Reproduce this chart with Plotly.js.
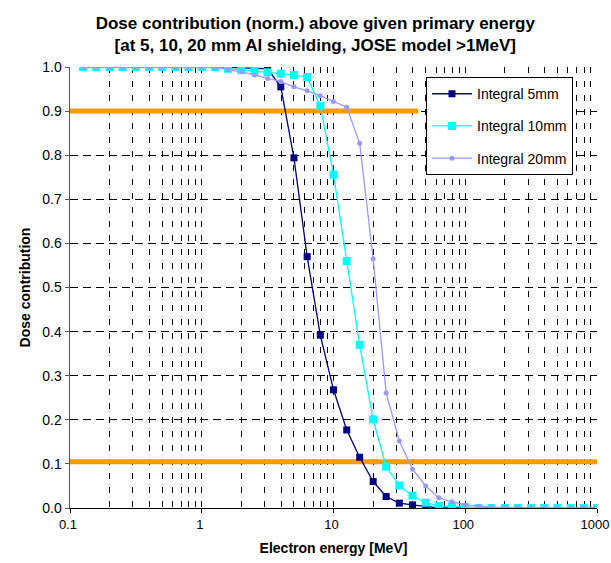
<!DOCTYPE html>
<html>
<head>
<meta charset="utf-8">
<script src="https://cdn.plot.ly/plotly-3.0.1.min.js"></script>
<style>html,body{margin:0;padding:0;background:#fff;}#chart{width:611px;height:563px;}</style>
</head>
<body>
<div id="chart"></div>
<script>
// Electron energy [MeV]
const energy = [0.126, 0.158, 0.2, 0.251, 0.316, 0.398, 0.501, 0.631, 0.794, 1,
  1.26, 1.58, 2, 2.51, 3.16, 3.98, 5.01, 6.31, 7.94, 10,
  12.6, 15.8, 20, 25.1, 31.6, 39.8, 50.1, 63.1, 79.4, 100,
  126, 158, 200, 251, 316, 398, 501, 631, 794, 1000];

const integral5mm = [1, 1, 1, 1, 1, 1, 1, 1, 1, 1,
  1, 0.999, 0.998, 0.997, 0.996, 0.955, 0.794, 0.570, 0.392, 0.268,
  0.177, 0.115, 0.060, 0.026, 0.011, 0.007, 0.003, 0, 0, 0,
  0, 0, 0, 0, 0, 0, 0, 0, 0, 0];

const integral10mm = [1, 1, 1, 1, 1, 1, 1, 1, 1, 1,
  1, 0.996, 0.993, 0.991, 0.988, 0.985, 0.982, 0.977, 0.912, 0.756,
  0.560, 0.370, 0.201, 0.094, 0.051, 0.028, 0.012, 0.005, 0.004, 0.002,
  0, 0, 0, 0, 0, 0, 0, 0, 0, 0];

const integral20mm = [1, 1, 1, 1, 1, 1, 1, 1, 1, 1,
  0.999, 0.994, 0.989, 0.982, 0.974, 0.967, 0.955, 0.946, 0.935, 0.922,
  0.909, 0.827, 0.565, 0.261, 0.152, 0.088, 0.050, 0.023, 0.014, 0.007,
  0.004, 0.002, 0.001, 0.001, 0, 0, 0, 0, 0, 0];

// Orange reference levels
const level90x = [0.1, 44];
const level90y = [0.9, 0.9];
const level10x = [0.1, 1000];
const level10y = [0.105, 0.105];

const xTickVals = [0.1, 1, 10, 100, 1000];
const xTickText = ['0.1', '1', '10', '100', '1000'];
const yTickVals = [0, 0.1, 0.2, 0.3, 0.4, 0.5, 0.6, 0.7, 0.8, 0.9, 1.0];

const seriesNames = ['Integral 5mm', 'Integral 10mm', 'Integral 20mm'];

const FONT = 'Liberation Sans, Arial, sans-serif';

const traces = [
  {x: level90x, y: level90y, mode: 'lines', line: {color: '#FF9900', width: 5}, showlegend: false, hoverinfo: 'skip'},
  {x: level10x, y: level10y, mode: 'lines', line: {color: '#FF9900', width: 5}, showlegend: false, hoverinfo: 'skip'},
  {x: energy, y: integral5mm, name: seriesNames[0], mode: 'lines+markers', legendgroup: 'a',
   line: {color: '#000080', width: 1.3}, marker: {symbol: 'square', size: 7, color: '#000080'}},
  {x: energy, y: integral10mm, name: seriesNames[1], mode: 'lines+markers', legendgroup: 'b',
   line: {color: '#00FFFF', width: 1.3}, marker: {symbol: 'square', size: 8, color: '#00FFFF'}},
  {x: energy, y: integral20mm, name: seriesNames[2], mode: 'lines+markers', legendgroup: 'c',
   line: {color: '#9999FF', width: 1.3}, marker: {symbol: 'circle', size: 5, color: '#9999FF'}}
];

const layout = {
  width: 611, height: 563,
  margin: {l: 70, r: 14, t: 67, b: 55},
  paper_bgcolor: '#fff', plot_bgcolor: '#fff',
  font: {family: FONT, size: 13, color: '#000'},
  title: {
    text: '<b>Dose contribution (norm.) above given primary energy<br>[at 5, 10, 20 mm Al shielding, JOSE model >1MeV]</b>',
    font: {family: FONT, size: 17, color: '#000'},
    x: 0.516, xanchor: 'center', xref: 'container',
    y: 0.9485, yanchor: 'middle', yref: 'container'
  },
  xaxis: {
    type: 'log', range: [-1, 3],
    tickmode: 'array', tickvals: xTickVals, ticktext: xTickText,
    ticks: 'outside', ticklen: 4, tickcolor: '#000',
    ticklabeloverflow: 'allow', ticklabelshift: -2,
    showline: true, linecolor: '#000', linewidth: 1,
    showgrid: true, gridcolor: '#000', griddash: '6px,8px', gridwidth: 1,
    minor: {dtick: 'D1', showgrid: true, gridcolor: '#000', griddash: '6px,8px', gridwidth: 1, ticks: ''},
    zeroline: false,
    tickfont: {family: FONT, size: 13, color: '#000'},
    title: {text: '<b>Electron energy [MeV]</b>', font: {family: FONT, size: 14, color: '#000'}, standoff: 12}
  },
  yaxis: {
    range: [0, 1.0],
    tickmode: 'array', tickvals: yTickVals, tickformat: '.1f',
    ticks: 'outside', ticklen: 4, tickcolor: '#555',
    showline: true, linecolor: '#555', linewidth: 1.5,
    showgrid: true, gridcolor: '#000', griddash: '8px,5px', gridwidth: 1,
    zeroline: false,
    tickfont: {family: FONT, size: 14, color: '#000'},
    title: {text: '<b>Dose contribution</b>', font: {family: FONT, size: 14, color: '#000'}, standoff: 8}
  },
  legend: {
    x: 0.6755, y: 0.977, xanchor: 'left', yanchor: 'top',
    bgcolor: '#fff', bordercolor: '#000', borderwidth: 1,
    font: {family: FONT, size: 14, color: '#000'},
    tracegroupgap: 11, itemwidth: 40, traceorder: 'grouped'
  },
  showlegend: true
};

Plotly.newPlot('chart', traces, layout, {displayModeBar: false, staticPlot: true});
</script>
</body>
</html>
